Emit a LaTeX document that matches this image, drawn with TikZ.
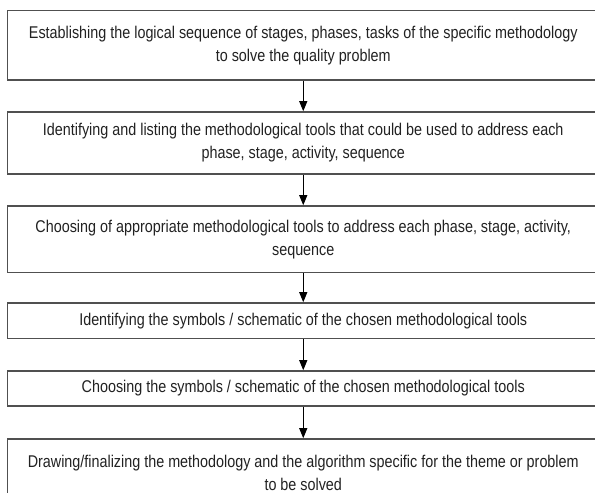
\documentclass[tikz,border=0pt]{standalone}
\usepackage{fontspec}
\setmainfont[FakeStretch=0.845]{Liberation Sans}
\usetikzlibrary{arrows.meta}
\definecolor{boxline}{HTML}{505050}
\definecolor{txt}{HTML}{222222}
\begin{document}
\begin{tikzpicture}[x=1pt,y=-1pt,
  stepbox/.style={draw=boxline, line width=1.6pt, fill=white, minimum width=591.5pt,
    inner sep=0pt, align=center, text=txt,
    font=\fontsize{17}{23}\selectfont},
  flowarrow/.style={draw=black, line width=1pt, -{Triangle[length=10pt,width=8pt]}}]
\useasboundingbox (0,0) rectangle (595,493);
\clip (0,0) rectangle (595,493);
\fill[white] (0,0) rectangle (595,493);
\node[stepbox, minimum height=69.5pt] (b1) at (303.25,45.25)
  {Establishing the logical sequence of stages, phases, tasks of the specific methodology\\to solve the quality problem};
\node[stepbox, minimum height=62pt] (b2) at (303.25,143)
  {Identifying and listing the methodological tools that could be used to address each\\phase, stage, activity, sequence};
\node[stepbox, minimum height=66.5pt] (b3) at (303.25,239.25)
  {Choosing of appropriate methodological tools to address each phase, stage, activity,\\sequence};
\node[stepbox, minimum height=35.5pt] (b4) at (303.25,320.75)
  {Identifying the symbols / schematic of the chosen methodological tools};
\node[stepbox, minimum height=35pt] (b5) at (303.25,388.5)
  {Choosing the symbols / schematic of the chosen methodological tools};
\node[stepbox, minimum height=67pt] (b6) at (303.25,472.5)
  {Drawing/finalizing the methodology and the algorithm specific for the theme or problem\\to be solved};
\draw[flowarrow] (b1.south) -- (b2.north);
\draw[flowarrow] (b2.south) -- (b3.north);
\draw[flowarrow] (b3.south) -- (b4.north);
\draw[flowarrow] (b4.south) -- (b5.north);
\draw[flowarrow] (b5.south) -- (b6.north);
\end{tikzpicture}
\end{document}
